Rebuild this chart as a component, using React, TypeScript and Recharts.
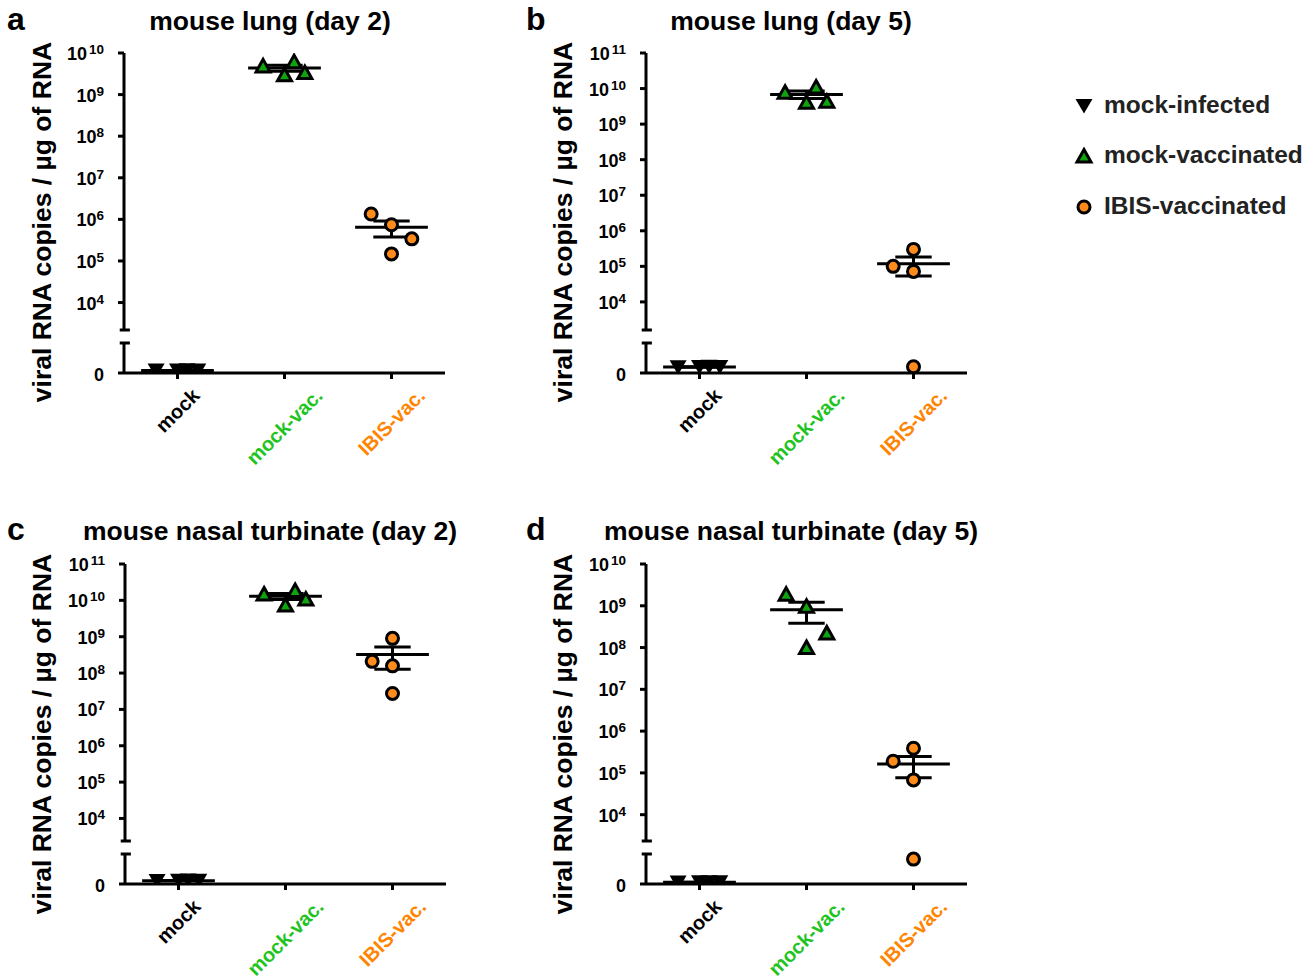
import { ScatterChart, Scatter, XAxis, YAxis, ReferenceLine } from "recharts";

const FONT = '"Liberation Sans", Arial, Helvetica, sans-serif';

const categories = ["mock", "mock-vac.", "IBIS-vac."];
const groupNames = ["mock-infected", "mock-vaccinated", "IBIS-vaccinated"];

// viral RNA copies / µg of RNA, four mice per group
const lungD2Mock = [80, 80, 90, 85];
const lungD2MockVac = [4.9e9, 3.0e9, 6.2e9, 3.4e9];
const lungD2Ibis = [1.35e6, 7.4e5, 3.4e5, 1.48e5];

const lungD5Mock = [190, 200, 210, 200];
const lungD5MockVac = [7.9e9, 4.1e9, 1.1e10, 4.4e9];
const lungD5Ibis = [3.0e5, 1.0e5, 7.2e4, 210];

const nasalD2Mock = [100, 110, 120, 110];
const nasalD2MockVac = [1.49e10, 7.4e9, 1.86e10, 1.09e10];
const nasalD2Ibis = [9.0e8, 2.1e8, 1.58e8, 2.75e7];

const nasalD5Mock = [50, 60, 60, 55];
const nasalD5MockVac = [1.9e9, 9.7e8, 2.24e8, 1.0e8];
const nasalD5Ibis = [3.9e5, 1.9e5, 6.8e4, 830];

// horizontal spread of overlapping points (category units)
const spreadRow = [-0.2, 0, 0.09, 0.19];
const spreadLeftRight = [-0.19, 0, 0.19, 0];
const spreadLeft = [0, -0.19, 0, 0];

// broken axis: linear 0..LIN_MAX at the bottom, log above the break
const LIN_MAX = 1000;
const LOW = 30;
const GAP = 13;
const UPPER = 277;
const TOP = LOW + GAP + UPPER;

const BLACK = "#000";
const GREEN = "#0fa30f";
const GREEN_TEXT = "#1fc41f";
const ORANGE = "#ff8c1a";
const ORANGE_TEXT = "#ff8400";
const catColors = [BLACK, GREEN_TEXT, ORANGE_TEXT];

type Panel = {
  letter: string;
  title: string;
  topExp: number;
  breakLog: number;
  groups: number[][];
  spreads: number[][];
  left: number;
  top: number;
};

const panels: Panel[] = [
  { letter: "a", title: "mouse lung (day 2)", topExp: 10, breakLog: 3.34,
    groups: [lungD2Mock, lungD2MockVac, lungD2Ibis], spreads: [spreadRow, spreadRow, spreadLeftRight], left: 0, top: 0 },
  { letter: "b", title: "mouse lung (day 5)", topExp: 11, breakLog: 3.21,
    groups: [lungD5Mock, lungD5MockVac, lungD5Ibis], spreads: [spreadRow, spreadRow, spreadLeft], left: 522, top: 0 },
  { letter: "c", title: "mouse nasal turbinate (day 2)", topExp: 11, breakLog: 3.38,
    groups: [nasalD2Mock, nasalD2MockVac, nasalD2Ibis], spreads: [spreadRow, spreadRow, spreadLeft], left: 1, top: 511 },
  { letter: "d", title: "mouse nasal turbinate (day 5)", topExp: 10, breakLog: 3.37,
    groups: [nasalD5Mock, nasalD5MockVac, nasalD5Ibis], spreads: [spreadRow, spreadLeftRight, spreadLeft], left: 522, top: 511 },
];

const toAxis = (v: number, p: Panel) => {
  if (v <= LIN_MAX) return (v / LIN_MAX) * LOW;
  return LOW + GAP + ((Math.log10(v) - p.breakLog) / (p.topExp - p.breakLog)) * UPPER;
};

const meanSem = (vals: number[]) => {
  const n = vals.length;
  const mean = vals.reduce((a, b) => a + b, 0) / n;
  const sd = Math.sqrt(vals.reduce((a, b) => a + (b - mean) ** 2, 0) / (n - 1));
  return { mean, sem: sd / Math.sqrt(n) };
};

let ctx: CanvasRenderingContext2D | null = null;
const textWidth = (s: string, font: string) => {
  if (!ctx) ctx = document.createElement("canvas").getContext("2d");
  if (!ctx) return s.length * 11;
  ctx.font = font;
  return ctx.measureText(s).width;
};

const DownTri = ({ cx, cy }: any) => (
  <path d={`M${cx - 8.5},${cy - 7}L${cx + 8.5},${cy - 7}L${cx},${cy + 7.5}Z`} fill={BLACK} />
);
const UpTri = ({ cx, cy }: any) => (
  <path d={`M${cx},${cy - 6.5}L${cx + 7},${cy + 6}L${cx - 7},${cy + 6}Z`} fill={GREEN} stroke={BLACK} strokeWidth={3} />
);
const Dot = ({ cx, cy }: any) => <circle cx={cx} cy={cy} r={6} fill={ORANGE} stroke={BLACK} strokeWidth={3} />;
const shapes = [DownTri, UpTri, Dot];

const CAT_SIZE = 20;

const CategoryTick = (props: any) => {
  const { x, y, payload } = props;
  const i = Math.round(payload.value) - 1;
  const label = categories[i];
  const w = textWidth(label, `bold ${CAT_SIZE}px ${FONT}`);
  const cy = y + 0.354 * (w + 14);
  return (
    <text x={x} y={cy} textAnchor="middle" dominantBaseline="central" transform={`rotate(-45 ${x} ${cy})`}
      fill={catColors[i]} fontSize={CAT_SIZE} fontWeight="bold" fontFamily={FONT}>
      {label}
    </text>
  );
};

const makeLogTick = (p: Panel) => (props: any) => {
  const { x, y, payload } = props;
  const v = payload.value;
  if (v === 0) {
    return <text x={x} y={y + 8} textAnchor="end" fontSize={18} fontWeight="bold" fontFamily={FONT}>0</text>;
  }
  const e = Math.round(p.breakLog + ((v - LOW - GAP) / UPPER) * (p.topExp - p.breakLog));
  return (
    <text x={x} y={y + 7} textAnchor="end" fontSize={18} fontWeight="bold" fontFamily={FONT}>
      <tspan>10</tspan>
      <tspan dx={e >= 10 ? 2 : 0} dy={-6} fontSize={13.5}>{e}</tspan>
    </text>
  );
};

const line = { stroke: BLACK, strokeWidth: 3 };

function PanelChart({ p }: { p: Panel }) {
  const yTicks = [0];
  for (let e = 4; e <= p.topExp; e++) yTicks.push(toAxis(10 ** e, p));
  const stats = p.groups.map(meanSem);
  const height = Math.min(510, 980 - p.top);

  return (
    <div style={{ position: "absolute", left: p.left, top: p.top }}>
      <ScatterChart width={520} height={height} margin={{ top: 53, right: 75, bottom: 0, left: 60 }}>
        <XAxis type="number" dataKey="x" domain={[0.5, 3.5]} ticks={[1, 2, 3]} interval={0} allowDataOverflow
          height={height - 53 - TOP} axisLine={line} tickLine={line} tickSize={6} tickMargin={8} tick={<CategoryTick />} />
        <YAxis type="number" dataKey="y" domain={[0, TOP]} ticks={yTicks} interval={0} allowDataOverflow width={64}
          axisLine={false} tickLine={line} tickSize={6} tickMargin={14} tick={makeLogTick(p)} />

        <ReferenceLine segment={[{ x: 0.5, y: 0 }, { x: 0.5, y: LOW }]} {...line} ifOverflow="visible" />
        <ReferenceLine segment={[{ x: 0.5, y: LOW + GAP }, { x: 0.5, y: TOP }]} {...line} ifOverflow="visible" />
        <ReferenceLine segment={[{ x: 0.46, y: LOW }, { x: 0.555, y: LOW }]} {...line} ifOverflow="visible" />
        <ReferenceLine segment={[{ x: 0.46, y: LOW + GAP }, { x: 0.555, y: LOW + GAP }]} {...line} ifOverflow="visible" />

        {stats.map((s, i) => {
          const c = i + 1;
          const m = toAxis(s.mean, p);
          const hi = toAxis(s.mean + s.sem, p);
          const lo = toAxis(s.mean - s.sem, p);
          return [
            <ReferenceLine key={`m${i}`} segment={[{ x: c - 0.34, y: m }, { x: c + 0.34, y: m }]} {...line} ifOverflow="visible" />,
            <ReferenceLine key={`v${i}`} segment={[{ x: c, y: lo }, { x: c, y: hi }]} {...line} ifOverflow="visible" />,
            <ReferenceLine key={`h${i}`} segment={[{ x: c - 0.17, y: hi }, { x: c + 0.17, y: hi }]} {...line} ifOverflow="visible" />,
            <ReferenceLine key={`l${i}`} segment={[{ x: c - 0.17, y: lo }, { x: c + 0.17, y: lo }]} {...line} ifOverflow="visible" />,
          ];
        })}

        {p.groups.map((vals, i) => (
          <Scatter key={groupNames[i]} name={groupNames[i]}
            data={vals.map((v, j) => ({ x: i + 1 + p.spreads[i][j], y: toAxis(v, p) }))}
            shape={shapes[i]} isAnimationActive={false} />
        ))}
      </ScatterChart>
    </div>
  );
}

function Annotations() {
  const txt = { fontFamily: FONT, fontWeight: "bold" as const };
  const ylab = "viral RNA copies / \u00b5g of RNA";
  return (
    <svg width={1313} height={980} style={{ position: "absolute", left: 0, top: 0, pointerEvents: "none" }}>
      {panels.map((p) => {
        const right = p.left > 100;
        const titleX = right ? 791 : 270;
        const base = p.top > 100 ? 540 : 30;
        const ly = p.top > 100 ? 734 : 222;
        const lx = right ? 572 : 51;
        return (
          <g key={p.letter}>
            <text x={right ? 526 : 7} y={base} fontSize={32} {...txt}>{p.letter}</text>
            <text x={titleX} y={base} fontSize={26.5} textAnchor="middle" {...txt}>{p.title}</text>
            <text transform={`translate(${lx},${ly}) rotate(-90)`} fontSize={26.5} textAnchor="middle" {...txt}>{ylab}</text>
          </g>
        );
      })}
      {groupNames.map((g, i) => {
        const y = [106, 156, 207][i];
        const Shape = shapes[i];
        return (
          <g key={g}>
            <Shape cx={1084} cy={y} />
            <text x={1104} y={y + 7} fontSize={24.5} fill="#222" {...txt}>{g}</text>
          </g>
        );
      })}
    </svg>
  );
}

export default function App() {
  return (
    <div style={{ position: "absolute", left: 0, top: 0, width: 1313, height: 980, background: "#fff", overflow: "hidden" }}>
      {panels.map((p) => (
        <PanelChart key={p.letter} p={p} />
      ))}
      <Annotations />
    </div>
  );
}
